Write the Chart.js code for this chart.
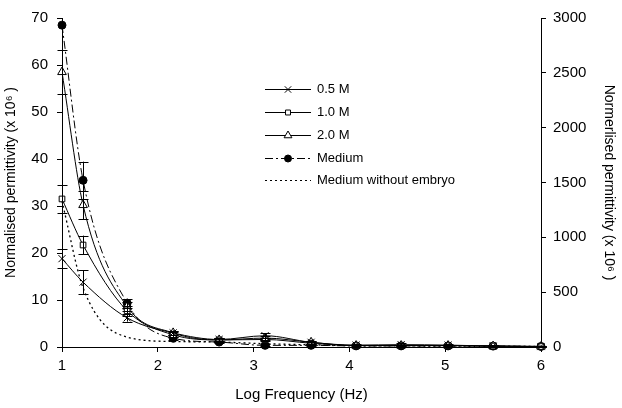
<!DOCTYPE html>
<html>
<head>
<meta charset="utf-8">
<script src="https://cdn.jsdelivr.net/npm/chart.js@4"></script>
<style>
html,body{margin:0;padding:0;background:#fff;}
#wrap{width:622px;height:408px;}
</style>
</head>
<body>
<div id="wrap"><canvas id="c" width="622" height="408"></canvas></div>
<script>
// Log frequency positions
const logFreq = [1, 1.22, 1.68, 2.16, 2.64, 3.12, 3.6, 4.07, 4.54, 5.03, 5.5, 6];
// Left axis series (x 10^6)
const m05 = [18.8, 13.8, 6.2, 3.0, 1.6, 2.4, 1.0, 0.4, 0.5, 0.4, 0.2, 0.1];
const m05Err = [2.0, 2.5, 0.8, 0.5, 0.3, 0.5, 0.3, 0.3, 0.3, 0.3, 0.2, 0.2];
const m10 = [31.5, 21.7, 7.7, 2.6, 1.5, 1.6, 0.8, 0.3, 0.3, 0.3, 0.2, 0.1];
const m10Err = [3.0, 2.0, 1.0, 0.5, 0.4, 0.4, 0.3, 0.2, 0.2, 0.2, 0.2, 0.1];
const m20 = [58.5, 30.2, 8.6, 3.0, 1.5, 1.9, 1.0, 0.3, 0.3, 0.3, 0.2, 0.1];
const m20Err = [4.7, 3.0, 1.0, 0.5, 0.4, 0.4, 0.3, 0.2, 0.2, 0.2, 0.2, 0.1];
// Right axis series (x 10^6)
const medium = [2935, 1520, 400, 80, 45, 15, 15, 10, 10, 10, 8, 5];
const mediumErr = [0, 170, 40, 15, 10, 10, 10, 5, 5, 5, 5, 5];
const mediumNoEmbryo = [1330, 540, 90, 50, 45, 30, 20, 12, 10, 8, 6, 5];
// Ticks
const xTicks = [1, 2, 3, 4, 5, 6];
const leftMax = 70, leftStep = 10;
const rightMax = 3000, rightStep = 500;

const FONT = "'Liberation Sans', Arial, sans-serif";

function pts(ys) { return logFreq.map((x, i) => ({x: x, y: ys[i]})); }

const datasets = [
  {label: '0.5 M', data: pts(m05), err: m05Err, yAxisID: 'y', pointStyle: 'crossRot', pointRadius: 5, borderWidth: 1, borderColor: '#000', backgroundColor: '#000', pointBorderWidth: 1},
  {label: '1.0 M', data: pts(m10), err: m10Err, yAxisID: 'y', pointStyle: 'rect', pointRadius: 4, borderWidth: 1, borderColor: '#000', backgroundColor: '#fff', pointBorderWidth: 1},
  {label: '2.0 M', data: pts(m20), err: m20Err, yAxisID: 'y', pointStyle: 'triangle', pointRadius: 5, borderWidth: 1, borderColor: '#000', backgroundColor: '#fff', pointBorderWidth: 1},
  {label: 'Medium', data: pts(medium), err: mediumErr, yAxisID: 'y2', pointStyle: 'circle', pointRadius: 4, borderWidth: 1, borderColor: '#000', backgroundColor: '#000', borderDash: [8, 3, 2, 3]},
  {label: 'Medium without embryo', data: pts(mediumNoEmbryo), yAxisID: 'y2', pointRadius: 0, borderWidth: 1.3, borderColor: '#000', backgroundColor: '#000', borderDash: [2, 3]}
];
datasets.forEach(d => { d.tension = 0.35; d.fill = false; d.cubicInterpolationMode = 'monotone'; d.clip = 8; });

const errorBars = {
  id: 'errorBars',
  afterDatasetsDraw(chart) {
    const ctx = chart.ctx;
    ctx.save();
    ctx.strokeStyle = '#000';
    ctx.lineWidth = 1;
    chart.data.datasets.forEach((ds, di) => {
      if (!ds.err) return;
      const ys = chart.scales[ds.yAxisID];
      const xs = chart.scales.x;
      ds.data.forEach((p, i) => {
        const e = ds.err[i];
        if (!e) return;
        const px = Math.round(xs.getPixelForValue(p.x)) + 0.5;
        const top = ys.getPixelForValue(p.y + e);
        const bot = ys.getPixelForValue(Math.max(p.y - e, 0));
        ctx.beginPath();
        ctx.moveTo(px, top); ctx.lineTo(px, bot);
        ctx.moveTo(px - 5, Math.round(top) + 0.5); ctx.lineTo(px + 5, Math.round(top) + 0.5);
        ctx.moveTo(px - 5, Math.round(bot) + 0.5); ctx.lineTo(px + 5, Math.round(bot) + 0.5);
        ctx.stroke();
      });
    });
    ctx.restore();
  }
};

const customLegend = {
  id: 'customLegend',
  afterDraw(chart) {
    const ctx = chart.ctx;
    const x0 = 265, x1 = 311, tx = 317;
    const rows = [89, 112, 135, 158, 180];
    ctx.save();
    chart.data.datasets.forEach((ds, i) => {
      const y = rows[i] + 0.5;
      ctx.strokeStyle = '#000';
      ctx.lineWidth = 1;
      ctx.setLineDash(ds.borderDash || []);
      ctx.beginPath(); ctx.moveTo(x0, y); ctx.lineTo(x1, y); ctx.stroke();
      ctx.setLineDash([]);
      if (ds.pointRadius > 0) {
        ctx.fillStyle = ds.backgroundColor;
        ctx.strokeStyle = '#000';
        const opts = {pointStyle: ds.pointStyle, radius: ds.pointRadius - 0.5, borderWidth: 1, rotation: 0};
        Chart.helpers.drawPoint(ctx, opts, (x0 + x1) / 2, y);
      }
      ctx.fillStyle = '#000';
      ctx.font = '13px ' + FONT;
      ctx.textBaseline = 'middle';
      ctx.textAlign = 'left';
      ctx.fillText(ds.label, tx, rows[i]);
    });
    ctx.restore();
  }
};

new Chart(document.getElementById('c'), {
  type: 'line',
  data: {datasets: datasets},
  plugins: [errorBars, customLegend],
  options: {
    responsive: false,
    animation: false,
    events: [],
    layout: {padding: {top: 13, left: 0, right: 0, bottom: 0}},
    plugins: {legend: {display: false}, tooltip: {enabled: false}},
    scales: {
      x: {
        type: 'linear', min: 1, max: 6,
        afterBuildTicks(s) { s.ticks = xTicks.map(v => ({value: v})); },
        afterFit(s) { s.height = 61; },
        grid: {display: true, drawOnChartArea: false, drawTicks: true, tickLength: 5, color: '#000'},
        border: {display: true, color: '#000', width: 1},
        ticks: {color: '#000', font: {family: FONT, size: 15}, padding: 5, callback: v => String(v)},
        title: {display: true, text: 'Log Frequency (Hz)', color: '#000', font: {family: FONT, size: 15}, padding: {top: 0, bottom: 4}}
      },
      y: {
        position: 'left', min: 0, max: leftMax,
        ticks: {stepSize: leftStep, color: '#000', font: {family: FONT, size: 15}, padding: 9, callback: v => String(v)},
        afterFit(s) { s.width = 62; },
        grid: {display: true, drawOnChartArea: false, drawTicks: true, tickLength: 5, color: '#000'},
        border: {display: true, color: '#000', width: 1},
        title: {display: true, text: 'Normalised permittivity (x 10\u2076 )', color: '#000', font: {family: FONT, size: 14}, padding: {top: 3, bottom: 0}}
      },
      y2: {
        position: 'right', min: 0, max: rightMax,
        ticks: {stepSize: rightStep, color: '#000', font: {family: FONT, size: 15}, padding: 7, callback: v => String(v)},
        afterFit(s) { s.width = 81; },
        grid: {display: true, drawOnChartArea: false, drawTicks: true, tickLength: 5, color: '#000'},
        border: {display: true, color: '#000', width: 1},
        title: {display: true, text: 'Normerlised permittivity (x 10\u2076 )', color: '#000', font: {family: FONT, size: 14}, padding: {top: 5, bottom: 0}}
      }
    }
  }
});
</script>
</body>
</html>
